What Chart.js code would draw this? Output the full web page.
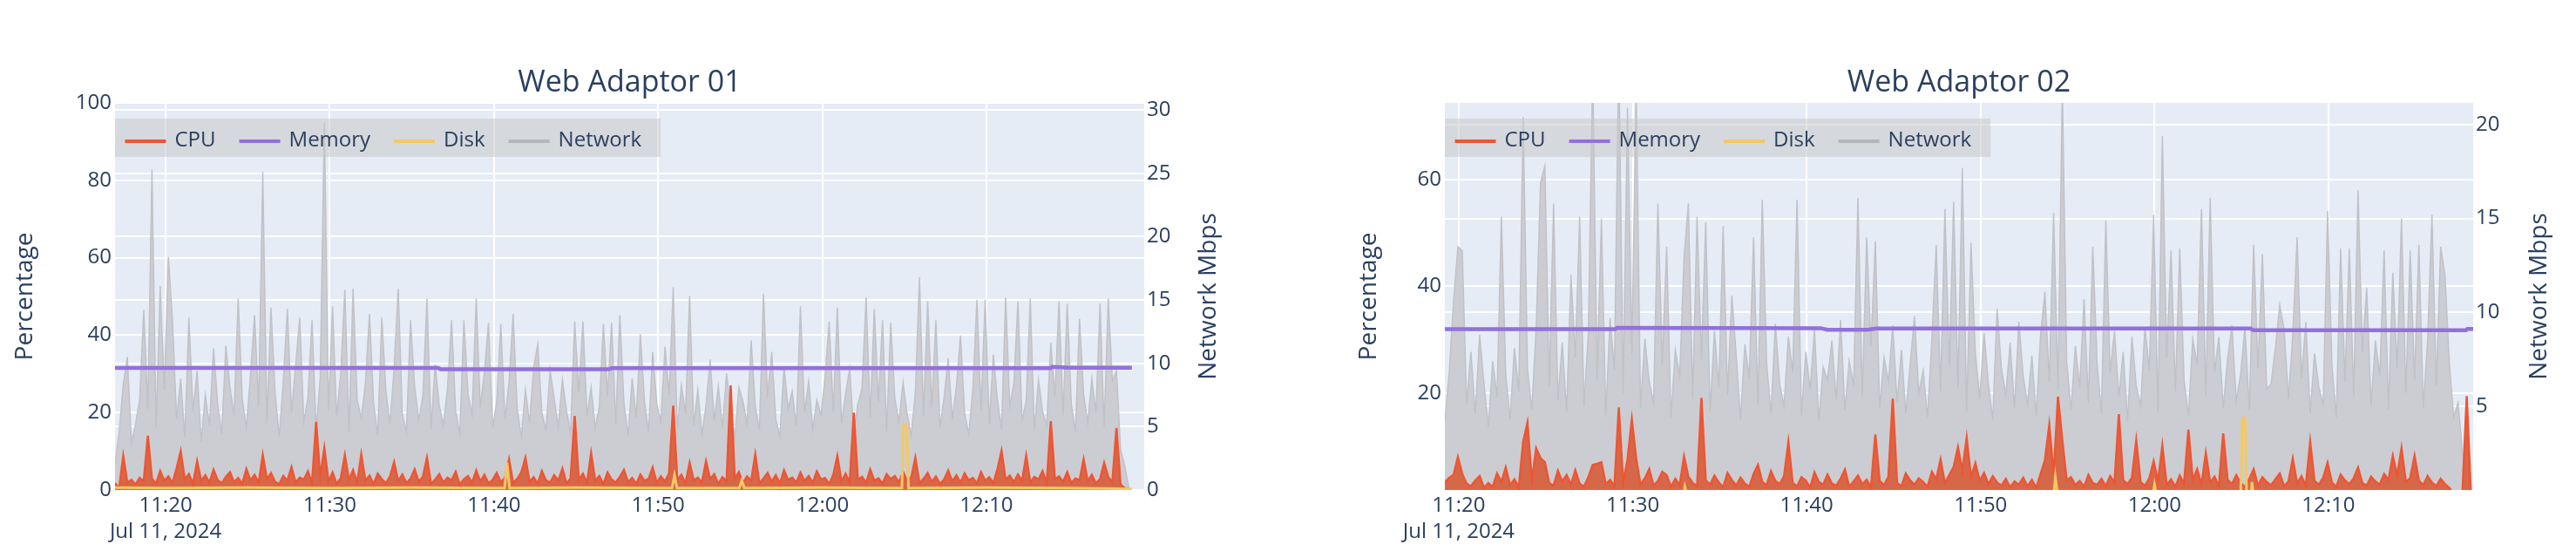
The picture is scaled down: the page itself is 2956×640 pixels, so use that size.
<!DOCTYPE html>
<html><head><meta charset="utf-8">
<script src="https://cdn.jsdelivr.net/npm/chart.js@4.4.1/dist/chart.umd.min.js"></script>
<style>
html,body{margin:0;padding:0;background:#fff;}
#wrap{position:relative;width:2956px;height:640px;overflow:hidden;}
.cv{position:absolute;top:0;width:1478px;height:640px;}
canvas{display:block;}
</style></head><body>
<div id="wrap">
<div class="cv" style="left:0"><canvas id="c1" width="1478" height="640"></canvas></div>
<div class="cv" style="left:1478px"><canvas id="c2" width="1478" height="640"></canvas></div>
</div>
<script>
// ---------- shared ----------
const seriesNames = ['CPU', 'Memory', 'Disk', 'Network'];
const dateLabel = 'Jul 11, 2024';
const STEP = 0.25;                 // 15-second samples, in minutes
const xTicks = [20, 30, 40, 50, 60, 70];   // minutes after 11:00

// ---------- Web Adaptor 01 ----------
const T0_1 = 16.92;                // first sample, minutes after 11:00
const cpu1 = [
1.8,0.4,8.8,1.9,2.6,1.4,3.1,2.2,14.0,2.9,
1.6,4.9,2.4,3.5,1.8,5.6,10.0,2.7,4.1,1.5,
7.4,2.3,3.8,1.9,5.2,2.6,1.7,3.4,4.6,2.0,
3.1,1.6,5.4,2.5,3.9,1.8,9.0,2.8,4.4,2.1,
1.5,3.6,2.4,5.9,1.9,3.2,2.7,4.8,1.7,17.6,
3.3,10.8,2.2,4.5,1.6,3.0,9.0,2.6,5.1,1.9,
9.2,2.4,3.7,1.5,4.2,2.8,1.7,3.5,7.2,2.3,
4.0,1.8,2.9,5.3,2.1,3.4,8.3,1.6,2.7,4.1,
1.9,3.2,2.5,4.7,1.4,2.8,3.6,1.8,5.0,2.2,
3.9,1.7,2.6,4.4,2.0,3.1,7.9,1.8,2.9,4.6,
8.3,2.1,3.3,1.6,4.9,2.5,1.9,3.8,2.4,5.5,
1.7,3.0,19.1,2.6,4.2,1.8,9.5,2.3,3.6,1.5,
4.5,2.7,1.9,3.4,5.2,2.0,3.1,1.6,4.0,2.4,
2.9,5.8,1.8,3.5,2.2,4.3,21.8,2.6,3.9,1.7,
7.0,2.5,3.2,1.9,7.4,2.8,4.1,1.6,3.3,2.2,
27.0,2.9,4.6,1.8,3.5,2.4,9.2,1.7,3.0,4.4,
2.1,3.8,1.6,5.1,2.6,3.2,1.9,4.5,2.3,3.6,
1.8,4.8,2.7,3.1,1.5,3.9,8.8,2.2,4.2,1.9,
20.0,2.6,3.4,1.8,5.3,2.4,3.0,1.7,4.1,2.8,
3.6,1.9,4.7,2.3,3.2,8.3,1.8,2.9,4.4,2.1,
3.5,1.6,2.7,5.0,2.2,3.8,1.9,4.3,2.5,3.1,
1.7,4.6,2.4,3.3,1.8,5.4,10.1,2.6,3.7,2.0,
4.0,2.3,8.8,1.9,3.4,2.7,4.9,1.6,17.8,2.8,
3.5,2.1,4.6,1.8,3.0,2.5,7.9,2.2,3.9,1.7,
2.8,7.0,3.3,2.0,16.0,1.4,0.5,0
];
const net1 = [
2.1,4.6,8.3,10.5,3.7,5.2,7.1,14.2,6.4,25.3,
4.8,16.1,7.9,18.4,13.4,5.6,8.8,4.1,13.6,6.2,
9.4,3.8,7.5,5.1,11.2,6.8,4.4,11.4,8.1,5.9,
15.1,7.2,4.9,9.1,13.8,6.6,25.1,5.3,14.4,7.7,
4.2,8.6,14.3,6.1,9.8,13.6,5.4,7.3,13.4,4.7,
8.9,29.0,6.3,14.5,5.8,9.2,15.8,4.5,15.9,7.1,
5.7,8.4,13.9,6.9,4.3,13.6,7.8,5.2,9.6,15.9,
6.0,4.6,13.4,8.2,5.5,7.4,15.1,4.8,9.9,6.7,
5.1,8.0,13.4,6.2,4.4,13.4,7.6,5.9,15.1,6.5,
9.3,13.2,4.9,7.0,13.1,5.6,8.5,13.9,6.4,4.2,
7.9,5.3,9.7,11.5,6.1,4.7,9.5,7.2,5.0,8.7,
6.3,4.5,13.3,7.7,13.3,5.8,8.1,4.9,6.6,13.1,
7.4,13.2,5.2,13.8,6.9,4.3,8.8,5.7,12.3,7.0,
4.6,10.9,6.8,5.4,11.3,7.5,16.0,4.8,8.3,6.0,
15.3,5.1,7.9,4.4,6.7,10.3,5.5,8.2,4.9,9.2,
6.3,4.1,8.1,7.0,5.2,11.8,6.6,4.7,15.5,7.3,
10.9,5.6,4.2,9.8,6.4,7.8,5.0,14.5,6.1,8.6,
4.8,7.1,5.9,8.9,13.3,6.2,14.4,5.3,7.6,9.6,
4.5,6.8,8.0,15.2,5.7,14.3,6.9,13.4,4.6,13.2,
7.2,5.4,8.5,6.0,4.3,7.7,16.8,5.8,14.9,6.5,
13.4,4.9,7.3,10.4,5.6,8.2,12.2,6.1,4.4,7.9,
15.0,6.3,15.0,5.2,10.7,7.1,4.8,15.2,6.6,8.4,
14.9,5.5,7.0,15.1,4.7,8.7,6.2,5.1,11.6,7.4,
14.9,5.9,14.7,6.8,4.6,13.5,7.5,5.3,8.8,6.1,
14.7,5.0,15.1,8.6,9.4,3.2,1.9,0.2
];
const memT1 = [16.92, 36.6, 36.75, 47.0, 47.15, 73.9, 74.0, 75.0, 78.86];
const mem1  = [31.55, 31.55, 31.2, 31.2, 31.45, 31.45, 31.8, 31.6, 31.6];
const diskT1 = [16.92, 20, 25, 30, 35, 40.65, 40.8, 40.95, 45, 50.85, 51.0, 51.15, 54.95, 55.1, 55.25, 60, 64.85, 64.95, 65.15, 65.25, 70, 75, 78.86];
const disk1  = [0.6, 0.5, 0.6, 0.5, 0.6, 0.5, 7.0, 0.5, 0.6, 0.5, 3.8, 0.5, 0.5, 2.5, 0.5, 0.6, 0.5, 16.9, 16.9, 0.5, 0.6, 0.5, 0.3];
const left1Ticks = [0, 20, 40, 60, 80, 100];
const right1Ticks = [0, 5, 10, 15, 20, 25, 30];

// ---------- Web Adaptor 02 ----------
const T0_2 = 19.2;
const cpu2 = [
3.2,4.1,4.6,8.0,4.8,3.0,2.5,3.6,4.4,2.2,
3.1,2.4,4.9,3.3,6.0,2.7,3.8,2.3,10.8,14.4,
3.5,9.6,7.8,7.0,3.1,2.6,5.4,3.4,4.6,2.8,
5.5,3.0,2.4,4.2,6.5,6.7,7.0,2.9,3.7,2.5,
17.3,3.2,7.5,15.0,7.7,2.8,4.0,5.7,2.6,3.5,
5.2,4.6,2.4,3.9,2.7,8.1,4.3,3.1,2.5,19.1,
3.6,2.8,4.5,3.2,2.3,5.0,3.7,2.6,4.1,3.0,
2.4,4.8,6.5,3.3,2.7,5.3,3.5,2.9,4.4,10.8,
3.1,2.5,4.2,3.6,2.2,5.1,3.3,2.8,4.7,3.0,
2.6,3.9,5.6,2.4,3.4,4.5,2.9,3.7,2.3,12.2,
3.5,2.7,4.3,18.9,3.1,2.5,4.9,3.6,2.8,4.0,
3.3,2.4,5.2,3.8,7.5,3.0,4.6,6.1,9.8,5.4,
11.6,4.2,6.8,3.5,5.0,2.9,4.4,3.2,2.6,3.9,
2.3,3.4,2.8,4.1,2.5,3.7,2.2,4.8,7.4,14.0,
4.7,19.3,11.1,3.6,4.2,2.7,3.5,2.4,4.6,3.1,
2.8,3.9,2.5,4.4,3.2,16.0,3.6,2.9,4.1,11.1,
3.3,2.6,4.0,7.2,3.4,10.1,2.7,3.8,2.4,4.5,
3.0,13.1,3.6,5.7,2.8,8.7,3.2,4.3,2.5,12.4,
3.7,2.9,4.6,3.1,2.4,3.9,5.7,2.6,4.2,3.3,
2.7,3.8,4.9,2.5,3.4,7.7,3.0,4.4,2.6,10.8,
3.5,2.8,4.1,6.9,3.2,2.4,4.7,3.6,2.9,4.0,
6.0,3.1,2.6,4.3,3.4,2.8,4.8,3.7,8.2,4.5,
9.6,3.3,4.0,8.2,3.6,2.7,4.4,3.2,2.5,3.9,
2.9,2.2,1.0,0.8,1.0,19.4,0.5
];
const net2 = [
4.2,6.8,10.6,13.5,13.3,5.1,7.9,4.6,8.8,6.2,
3.9,7.4,5.5,15.1,6.7,4.3,8.1,5.8,20.4,7.0,
4.8,9.2,16.9,17.8,6.1,15.8,5.3,8.4,4.7,12.0,
7.6,15.1,5.0,8.9,23.0,6.4,15.0,4.5,9.7,6.9,
24.0,5.7,20.9,7.8,22.0,4.9,8.6,6.3,5.2,15.8,
7.2,13.5,4.4,8.0,6.6,12.9,15.8,5.4,15.1,7.5,
14.8,4.7,9.0,6.0,14.6,5.6,10.9,7.7,4.3,8.3,
6.5,14.0,5.1,16.0,7.3,4.6,9.4,6.2,5.0,8.7,
6.8,16.0,4.5,7.9,5.9,9.1,4.2,7.1,6.4,8.5,
5.3,9.6,4.8,7.4,6.1,16.1,5.5,14.0,8.2,13.8,
4.9,7.6,6.3,9.3,5.2,8.0,4.6,7.2,9.8,5.7,
6.9,4.4,8.6,13.6,5.8,15.5,7.1,15.9,6.0,17.7,
4.7,13.7,7.8,5.4,8.9,6.2,4.3,10.2,7.0,5.6,
8.4,4.9,9.5,6.6,5.1,7.7,4.5,8.8,11.1,6.3,
15.3,5.9,22.0,7.4,4.8,8.2,6.0,10.7,5.2,13.5,
7.3,4.6,14.9,6.8,9.0,5.5,7.9,4.2,8.7,6.1,
5.0,9.2,6.9,15.2,4.7,19.4,7.6,13.3,5.8,13.4,
6.4,4.5,8.6,7.2,15.5,5.6,16.1,6.8,8.7,4.9,
7.5,9.3,5.3,6.7,9.2,4.8,13.6,7.0,13.1,5.9,
6.2,8.1,10.4,9.1,5.4,8.8,14.0,6.5,9.5,4.6,
7.8,6.0,5.1,15.4,7.2,4.4,13.4,6.3,13.4,5.5,
16.5,7.9,11.3,5.0,8.5,6.6,13.3,4.8,12.1,7.0,
15.0,5.7,13.3,6.4,13.6,4.9,8.5,15.2,6.1,13.5,
12.0,7.3,4.4,5.2,2.6,0.8,0.5
];
const memT2 = [19.2, 29.0, 29.1, 40.8, 41.2, 43.5, 44.0, 65.5, 65.7, 77.9, 78.0, 78.32];
const mem2  = [31.95, 31.95, 32.2, 32.15, 31.85, 31.85, 32.1, 32.1, 31.75, 31.75, 32.0, 32.0];
const diskT2 = [19.2, 32.9, 33.0, 33.15, 54.2, 54.3, 54.45, 59.9, 60.0, 60.15, 64.95, 65.05, 65.2, 65.3, 65.55, 65.6, 65.7, 78.32];
const disk2  = [0.5, 0.5, 2.4, 0.5, 0.5, 4.2, 0.5, 0.5, 2.8, 0.5, 0.5, 15.3, 15.3, 0.5, 0.5, 3.3, 0.5, 0.5];
const left2Ticks = [20, 40, 60];
const right2Ticks = [5, 10, 15, 20];

// ---------- drawing ----------
const TXT = '#2a3f5f';
const FONT = '"Open Sans", "DejaVu Sans", sans-serif';
const COLORS = {CPU: '#EE5533', Memory: '#9370DB', Disk: '#F4C864', Network: '#B4B6BA'};
Chart.defaults.font.family = FONT;
Chart.defaults.color = TXT;

function series(t0, vals) { return vals.map((v, i) => ({x: t0 + i * STEP, y: v})); }
function pairs(ts, vs) { return ts.map((t, i) => ({x: t, y: vs[i]})); }
function fmt(m) {
  const h = 11 + Math.floor(m / 60);
  const mm = Math.round(m % 60);
  return h + ':' + String(mm).padStart(2, '0');
}

function decor(o) {
  return {
    id: 'decor',
    beforeDraw(chart) {
      const {ctx, chartArea: a} = chart;
      ctx.save();
      ctx.fillStyle = '#E5ECF6';
      ctx.fillRect(a.left, a.top, a.right - a.left, a.bottom - a.top);
      ctx.restore();
    },
    afterDatasetsDraw(chart) {
      const {ctx, chartArea: a} = chart;
      ctx.save();
      ctx.font = '24px ' + FONT;
      let x = a.left + 11.5;
      const pos = [];
      seriesNames.forEach(n => {
        pos.push(x);
        x += 57 + ctx.measureText(n).width + 27;
      });
      const right = x - 27 + 22;
      ctx.fillStyle = 'rgba(200,200,200,0.55)';
      ctx.fillRect(a.left, 136, right - a.left, 44);
      seriesNames.forEach((n, i) => {
        ctx.strokeStyle = COLORS[n];
        ctx.lineWidth = 4;
        ctx.beginPath();
        ctx.moveTo(pos[i], 162);
        ctx.lineTo(pos[i] + 47, 162);
        ctx.stroke();
        ctx.fillStyle = TXT;
        ctx.textBaseline = 'alphabetic';
        ctx.textAlign = 'left';
        ctx.fillText(n, pos[i] + 57, 168);
      });
      ctx.restore();
    },
    afterDraw(chart) {
      const {ctx, chartArea: a} = chart;
      ctx.save();
      ctx.fillStyle = TXT;
      ctx.textAlign = 'center';
      ctx.textBaseline = 'alphabetic';
      ctx.font = '34px ' + FONT;
      ctx.fillText(o.title, (a.left + a.right) / 2, 105);
      ctx.font = '28px ' + FONT;
      const cy = (a.top + a.bottom) / 2;
      ctx.save();
      ctx.translate(o.percX, cy);
      ctx.rotate(-Math.PI / 2);
      ctx.fillText('Percentage', 0, 0);
      ctx.restore();
      ctx.save();
      ctx.translate(o.netX, cy);
      ctx.rotate(-Math.PI / 2);
      ctx.fillText('Network Mbps', 0, 0);
      ctx.restore();
      ctx.restore();
    }
  };
}

function build(id, o) {
  const grid = {color: '#ffffff', lineWidth: 2, drawTicks: false};
  return new Chart(document.getElementById(id), {
    type: 'line',
    data: {datasets: [
      {label: 'Memory', data: pairs(o.memT, o.mem), yAxisID: 'y', borderColor: COLORS.Memory,
       borderWidth: 4.5, pointRadius: 0, fill: false, order: 0},
      {label: 'Disk', data: pairs(o.diskT, o.disk), yAxisID: 'y', borderColor: COLORS.Disk,
       borderWidth: 3, pointRadius: 0, fill: false, order: 1},
      {label: 'CPU', data: series(o.t0, o.cpu), yAxisID: 'y', borderColor: COLORS.CPU,
       backgroundColor: '#D6684A', fill: 'origin', borderWidth: 2.5, pointRadius: 0, order: 2},
      {label: 'Network', data: series(o.t0, o.net), yAxisID: 'y1', borderColor: 'rgb(192,194,199)',
       backgroundColor: 'rgb(203,205,210)', fill: 'origin', borderWidth: 1.5, pointRadius: 0, order: 3}
    ]},
    options: {
      responsive: false, animation: false, devicePixelRatio: 1,
      layout: {padding: {top: 118, left: 0, right: 0, bottom: 0}},
      elements: {line: {tension: 0}},
      plugins: {legend: {display: false}, title: {display: false}, tooltip: {enabled: false}},
      scales: {
        x: {type: 'linear', min: o.xMin, max: o.xMax,
            afterBuildTicks: s => { s.ticks = xTicks.map(v => ({value: v})); },
            afterFit: s => { s.height = 640 - 562; },
            grid: grid, border: {display: false},
            ticks: {font: {size: 24, lineHeight: 1.25}, color: TXT, padding: 3, maxRotation: 0, autoSkip: false,
                    callback: (v, i) => i === 0 ? [fmt(v), dateLabel] : fmt(v)}},
        y: {position: 'left', min: o.lMin, max: o.lMax,
            afterBuildTicks: s => { s.ticks = o.lTicks.map(v => ({value: v})); },
            afterFit: s => { s.width = o.lW; },
            grid: grid, border: {display: false},
            ticks: {font: {size: 24}, color: TXT, padding: 4}},
        y1: {position: 'right', min: o.rMin, max: o.rMax,
             afterBuildTicks: s => { s.ticks = o.rTicks.map(v => ({value: v})); },
             afterFit: s => { s.width = o.rW; },
             grid: grid, border: {display: false},
             ticks: {font: {size: 24}, color: TXT, padding: 3}}
      }
    },
    plugins: [decor(o)]
  });
}

build('c1', {title: 'Web Adaptor 01', t0: T0_1, cpu: cpu1, net: net1, memT: memT1, mem: mem1,
  diskT: diskT1, disk: disk1, xMin: 16.92, xMax: 79.61, lMin: 0, lMax: 100, lTicks: left1Ticks,
  rMin: 0, rMax: 30.55, rTicks: right1Ticks, lW: 132, rW: 165, percX: 37, netX: 1395});
build('c2', {title: 'Web Adaptor 02', t0: T0_2, cpu: cpu2, net: net2, memT: memT2, mem: mem2,
  diskT: diskT2, disk: disk2, xMin: 19.2, xMax: 78.32, lMin: 1.8, lMax: 74.4, lTicks: left2Ticks,
  rMin: 0.54, rMax: 21.16, rTicks: right2Ticks, lW: 180, rW: 118, percX: 101, netX: 1444});
</script>
</body></html>
